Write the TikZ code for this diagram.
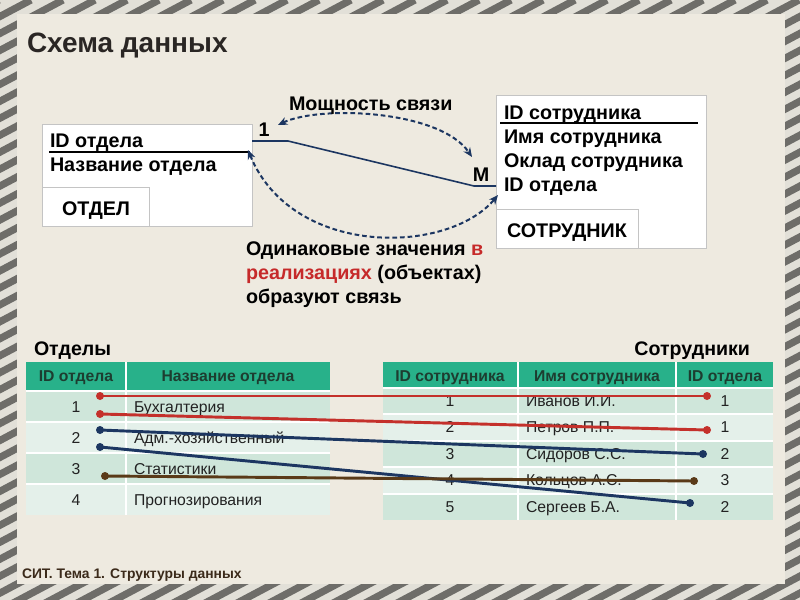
\documentclass[tikz,border=0pt]{standalone}
\usepackage{fontspec}
\setmainfont{Liberation Sans}
\usetikzlibrary{arrows.meta}
\definecolor{stripedark}{HTML}{6E6D69}
\definecolor{stripelight}{HTML}{E2E0D8}
\definecolor{bgbeige}{HTML}{EEEAE0}
\definecolor{titlecol}{HTML}{2A2624}
\definecolor{navy}{HTML}{1C3661}
\definecolor{redline}{HTML}{C4302B}
\definecolor{brownline}{HTML}{5A3A18}
\definecolor{boxgray}{HTML}{C4C4C4}
\definecolor{headteal}{HTML}{28B18A}
\definecolor{rowdark}{HTML}{CFE6DA}
\definecolor{rowlight}{HTML}{E4F0EA}
\definecolor{headtext}{HTML}{1D3D30}
\definecolor{celltext}{HTML}{222222}
\definecolor{redtext}{HTML}{C62A2A}
\definecolor{footcol}{HTML}{3B2A1A}
\tikzset{
  entbox/.style={draw=boxgray, line width=0.75pt, fill=white, anchor=north west, inner sep=0pt, outer sep=0pt},
  boxtext/.style={anchor=base west, font=\bfseries\fontsize{14.8}{17}\selectfont, text=black},
  labeltext/.style={font=\bfseries\fontsize{14.8}{17}\selectfont, text=black},
  headlbl/.style={anchor=base, font=\bfseries\fontsize{11.8}{13}\selectfont, text=headtext},
  cellc/.style={anchor=base, font=\fontsize{11.8}{13}\selectfont, text=celltext},
  celll/.style={anchor=base west, font=\fontsize{11.8}{13}\selectfont, text=celltext},
  dot/.style={circle, inner sep=0pt, minimum size=6pt},
  linkline/.style={line width=2.2pt},
  relarrow/.style={navy, line width=1.5pt, dash pattern=on 3.5pt off 2.2pt, {Stealth[length=7pt,width=6pt]}-{Stealth[length=7pt,width=6pt]}},
}
\begin{document}
\begin{tikzpicture}[x=0.75pt,y=-0.75pt, every node/.style={inner sep=0pt, outer sep=0pt}]
\useasboundingbox (0,0) rectangle (800,600);
% striped frame
\fill[stripelight] (0,0) rectangle (800,600);
\begin{scope}
\clip (0,0) rectangle (800,600);
\foreach \i in {-38,...,26} {
  \draw[stripedark, line width=5.4pt] ({\i*32},610) -- ({\i*32+1151},0);
}
\end{scope}
\fill[bgbeige] (17,14) rectangle (785,584);

% title
\node[anchor=base west, font=\bfseries\fontsize{21}{25}\selectfont, text=titlecol] (title) at (27,52) {Схема данных};

% left entity box
\node[entbox, minimum width=157.5pt, minimum height=76.5pt] (otdel) at (42,124) {};
\node[entbox, minimum width=80.25pt, minimum height=29.25pt] (otdelname) at (42,187) {};
\node[anchor=base, font=\bfseries\fontsize{14.8}{17}\selectfont] (otdellbl) at (96,215) {ОТДЕЛ};
\node[boxtext] (o1) at (50,147) {ID отдела};
\node[boxtext] (o2) at (50,171) {Название отдела};
\coordinate (ul1a) at (49,152);
\coordinate (ul1b) at (250,152);
\draw[black, line width=1.2pt] (ul1a) -- (ul1b);

% right entity box
\node[entbox, minimum width=157.5pt, minimum height=114.75pt] (sotr) at (496,95) {};
\node[entbox, minimum width=106.5pt, minimum height=29.25pt] (sotrname) at (496,209) {};
\node[anchor=base, font=\bfseries\fontsize{14.8}{17}\selectfont] (sotrlbl) at (567,237) {СОТРУДНИК};
\node[boxtext] (s1) at (504,119) {ID сотрудника};
\node[boxtext] (s2) at (504,143) {Имя сотрудника};
\node[boxtext] (s3) at (504,167) {Оклад сотрудника};
\node[boxtext] (s4) at (504,191) {ID отдела};
\coordinate (ul2a) at (500,123);
\coordinate (ul2b) at (698,123);
\draw[black, line width=1.2pt] (ul2a) -- (ul2b);

% relation line
\coordinate (r1) at (252,141);
\coordinate (r2) at (288,141);
\coordinate (r3) at (474,186);
\coordinate (r4) at (496,186);
\draw[navy, line width=1.2pt] (r1) -- (r2) -- (r3) -- (r4);
\node[labeltext, anchor=base] (one) at (264,136) {1};
\node[labeltext, anchor=base] (many) at (481,181) {M};

% dashed arrows
\coordinate (ta) at (278,125);
\coordinate (tb) at (472,157);
\draw[relarrow] (ta) .. controls (320,105) and (440,110) .. (tb);
\coordinate (ba) at (248,150);
\coordinate (bb) at (498,195);
\draw[relarrow] (ba) .. controls (292,258) and (448,255) .. (bb);

\node[labeltext, anchor=base west] (power) at (289,110) {Мощность связи};
\node[labeltext, anchor=base west] (same1) at (246,255) {Одинаковые значения \textcolor{redtext}{в}};
\node[labeltext, anchor=base west] (same2) at (246,279) {\textcolor{redtext}{реализациях} (объектах)};
\node[labeltext, anchor=base west] (same3) at (246,303) {образуют связь};

% table captions
\node[anchor=base west, font=\bfseries\fontsize{14.7}{17}\selectfont] (capo) at (34,355) {Отделы};
\node[anchor=base east, font=\bfseries\fontsize{14.7}{17}\selectfont] (caps) at (750,355) {Сотрудники};

% left table
\fill[headteal] (26,362) rectangle (330,391);
\fill[rowdark] (26,391) rectangle (330,422);
\fill[rowlight] (26,422) rectangle (330,453);
\fill[rowdark] (26,453) rectangle (330,484);
\fill[rowlight] (26,484) rectangle (330,515);
\draw[white, line width=1.5pt] (126,362) -- (126,515);
\foreach \yy in {391,422,453,484} { \draw[white, line width=1.5pt] (26,\yy) -- (330,\yy); }
\node[headlbl] (lh1) at (76,381) {ID отдела};
\node[headlbl] (lh2) at (228,381) {Название отдела};
\node[cellc] (la1) at (76,412) {1};
\node[cellc] (la2) at (76,443) {2};
\node[cellc] (la3) at (76,474) {3};
\node[cellc] (la4) at (76,505) {4};
\node[celll] (lb1) at (134,412) {Бухгалтерия};
\node[celll] (lb2) at (134,443) {Адм.-хозяйственный};
\node[celll] (lb3) at (134,474) {Статистики};
\node[celll] (lb4) at (134,505) {Прогнозирования};

% right table
\fill[headteal] (383,362) rectangle (773,388);
\fill[rowdark] (383,388) rectangle (773,414.4);
\fill[rowlight] (383,414.4) rectangle (773,440.8);
\fill[rowdark] (383,440.8) rectangle (773,467.2);
\fill[rowlight] (383,467.2) rectangle (773,493.6);
\fill[rowdark] (383,493.6) rectangle (773,520);
\draw[white, line width=1.5pt] (518,362) -- (518,520);
\draw[white, line width=1.5pt] (676,362) -- (676,520);
\foreach \yy in {388,414.4,440.8,467.2,493.6} { \draw[white, line width=1.5pt] (383,\yy) -- (773,\yy); }
\node[headlbl] (rh1) at (450,381) {ID сотрудника};
\node[headlbl] (rh2) at (597,381) {Имя сотрудника};
\node[headlbl] (rh3) at (725,381) {ID отдела};
\foreach \n/\nm/\d [count=\k] in {1/Иванов И.И./1, 2/Петров П.П./1, 3/Сидоров С.С./2, 4/Кольцов А.С./3, 5/Сергеев Б.А./2} {
  \node[cellc] (ra\k) at (450,{388+(\k-1)*26.4+18.5}) {\n};
  \node[celll] (rb\k) at (526,{388+(\k-1)*26.4+18.5}) {\nm};
  \node[cellc] (rc\k) at (725,{388+(\k-1)*26.4+18.5}) {\d};
}

% link lines with dots
\node[dot, fill=redline] (d1a) at (100,396) {};
\node[dot, fill=redline] (d1b) at (707,396) {};
\node[dot, fill=redline] (d2a) at (100,414) {};
\node[dot, fill=redline] (d2b) at (707,430) {};
\node[dot, fill=navy] (d3a) at (100,430) {};
\node[dot, fill=navy] (d3b) at (703,454) {};
\node[dot, fill=navy] (d4a) at (100,447) {};
\node[dot, fill=navy] (d4b) at (690,503) {};
\node[dot, fill=brownline] (d5a) at (105,476) {};
\node[dot, fill=brownline] (d5b) at (694,481) {};
\draw[linkline, redline] (d1a.center) -- (d1b.center);
\draw[linkline, redline] (d2a.center) -- (d2b.center);
\draw[linkline, navy] (d3a.center) -- (d3b.center);
\draw[linkline, navy] (d4a.center) -- (d4b.center);
\draw[linkline, brownline] (d5a.center) -- (d5b.center);

% footer
\node[anchor=base west, font=\bfseries\fontsize{10.4}{12}\selectfont, text=footcol] (foot) at (22,578) {СИТ. Тема 1. Структуры данных};
\end{tikzpicture}
\end{document}
